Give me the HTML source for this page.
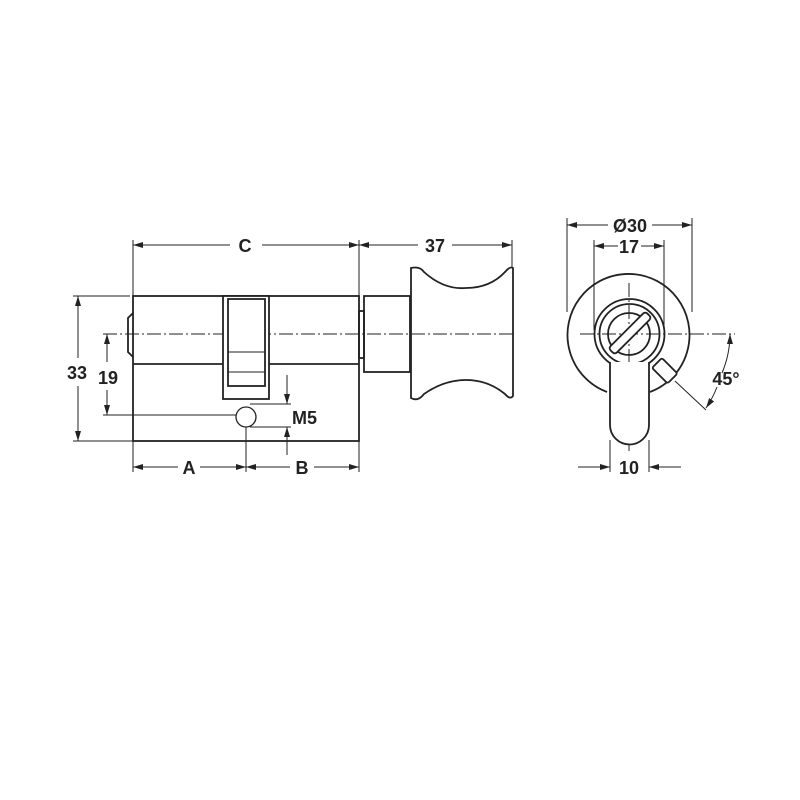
<!DOCTYPE html>
<html><head><style>body{margin:0;background:#fff}svg{display:block}text{font-family:"Liberation Sans",sans-serif;font-weight:bold;font-size:18px;fill:#222}</style></head><body>
<svg width="800" height="800" viewBox="0 0 800 800" xmlns="http://www.w3.org/2000/svg">
<defs><marker id="a" viewBox="0 0 10 6" refX="10" refY="3" markerWidth="10" markerHeight="6" orient="auto-start-reverse" markerUnits="userSpaceOnUse"><path d="M0,0L10,3L0,6z" fill="#222"/></marker></defs>
<g stroke="#222" fill="none" stroke-width="1">
<line x1="103" y1="334" x2="516" y2="334" stroke-dasharray="14,3,2,3"/>
<line x1="580" y1="334" x2="735" y2="334" stroke-dasharray="14,3,2,3"/>
<line x1="629" y1="283" x2="629" y2="452" stroke-dasharray="14,3,2,3"/>
<line x1="133" y1="240" x2="133" y2="296"/><line x1="359" y1="240" x2="359" y2="296"/><line x1="512" y1="240" x2="512" y2="268"/>
<line x1="73" y1="296" x2="130" y2="296"/><line x1="73" y1="441" x2="133" y2="441"/>
<line x1="103" y1="415" x2="236" y2="415"/>
<line x1="250" y1="404" x2="291" y2="404"/><line x1="250" y1="427" x2="291" y2="427"/>
<line x1="133" y1="441" x2="133" y2="472"/><line x1="246" y1="427" x2="246" y2="472"/><line x1="359" y1="441" x2="359" y2="472"/>
<line x1="567" y1="218" x2="567" y2="312"/><line x1="692" y1="218" x2="692" y2="312"/>
<line x1="594" y1="240" x2="594" y2="330"/><line x1="664" y1="240" x2="664" y2="340"/>
<line x1="610" y1="440" x2="610" y2="472"/><line x1="649" y1="440" x2="649" y2="472"/>
<line x1="675" y1="381" x2="706" y2="410"/>
<line x1="133" y1="245" x2="230" y2="245" marker-start="url(#a)"/><line x1="262" y1="245" x2="359" y2="245" marker-end="url(#a)"/>
<line x1="359" y1="245" x2="418" y2="245" marker-start="url(#a)"/><line x1="452" y1="245" x2="512" y2="245" marker-end="url(#a)"/>
<line x1="78" y1="296" x2="78" y2="358" marker-start="url(#a)"/><line x1="78" y1="386" x2="78" y2="441" marker-end="url(#a)"/>
<line x1="107" y1="334" x2="107" y2="362" marker-start="url(#a)"/><line x1="107" y1="390" x2="107" y2="415" marker-end="url(#a)"/>
<line x1="287" y1="375" x2="287" y2="404" marker-end="url(#a)"/><line x1="287" y1="455" x2="287" y2="427" marker-end="url(#a)"/>
<line x1="133" y1="467" x2="178" y2="467" marker-start="url(#a)"/><line x1="200" y1="467" x2="246" y2="467" marker-end="url(#a)"/>
<line x1="246" y1="467" x2="290" y2="467" marker-start="url(#a)"/><line x1="314" y1="467" x2="359" y2="467" marker-end="url(#a)"/>
<line x1="567" y1="225" x2="608" y2="225" marker-start="url(#a)"/><line x1="652" y1="225" x2="692" y2="225" marker-end="url(#a)"/>
<line x1="594" y1="246" x2="618" y2="246" marker-start="url(#a)"/><line x1="641" y1="246" x2="664" y2="246" marker-end="url(#a)"/>
<line x1="578" y1="467" x2="610" y2="467" marker-end="url(#a)"/><line x1="681" y1="467" x2="649" y2="467" marker-end="url(#a)"/>
<path d="M730,334 A101,101 0 0 1 722,373" marker-start="url(#a)"/>
<path d="M717,387 A101,101 0 0 1 706,408" marker-end="url(#a)"/>
</g>
<g stroke="#222" fill="none" stroke-width="1.8">
<rect x="133" y="296" width="226" height="145"/>
<line x1="133" y1="364" x2="223" y2="364"/><line x1="269" y1="364" x2="359" y2="364"/>
<path d="M133,313 L128,318 L128,352 L133,357"/>
<rect x="223" y="296" width="46" height="103" fill="#fff"/>
<rect x="228" y="299" width="37" height="87"/>
<line x1="228" y1="352" x2="265" y2="352" stroke-width="1"/><line x1="228" y1="372" x2="265" y2="372" stroke-width="1"/>
<circle cx="246" cy="417" r="10" stroke-width="1.3"/>
<rect x="359" y="311" width="5" height="47"/>
<rect x="364" y="296" width="46" height="76"/>
<path d="M411,268 Q420,266 424,272 Q444,290 466,288 Q490,288 505,272 Q510,266 513,268 L513,396 Q510,400 505,394 Q488,380 466,380 Q444,380 424,394 Q418,402 411,398 Z"/>
<path d="M607,392 A61,61 0 1 1 650,392"/>
<circle cx="629.5" cy="334" r="35"/>
<circle cx="629.5" cy="334" r="30"/>
<circle cx="629" cy="334" r="21"/>
<path d="M610,362 L610,425 A19.5,19.5 0 0 0 649,425 L649,362" fill="#fff"/>
<g transform="translate(630,333) rotate(-45)"><rect x="-26" y="-4.5" width="52" height="9" rx="3" fill="#fff"/></g>
<g transform="translate(664,370) rotate(45)"><rect x="-10" y="-7" width="22" height="14" rx="2" fill="#fff"/></g>
</g>
<text x="245" y="252" text-anchor="middle">C</text>
<text x="435" y="252" text-anchor="middle">37</text>
<text x="77" y="379" text-anchor="middle">33</text>
<text x="108" y="384" text-anchor="middle">19</text>
<text x="292" y="424" text-anchor="start">M5</text>
<text x="189" y="474" text-anchor="middle">A</text>
<text x="302" y="474" text-anchor="middle">B</text>
<text x="630" y="232" text-anchor="middle">Ø30</text>
<text x="629" y="253" text-anchor="middle">17</text>
<text x="726" y="385" text-anchor="middle">45°</text>
<text x="629" y="474" text-anchor="middle">10</text>
</svg>
</body></html>
